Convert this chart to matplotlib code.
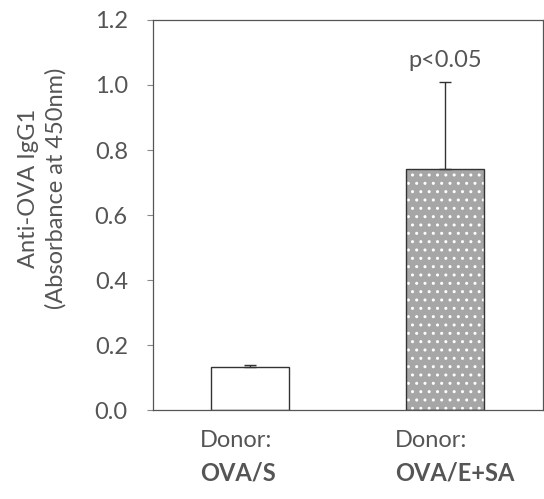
import matplotlib
matplotlib.use("Agg")
import matplotlib.pyplot as plt

categories = ["OVA/S", "OVA/E+SA"]
values = [0.133, 0.742]
errors = [0.007, 0.268]
yticks = [0.0, 0.2, 0.4, 0.6, 0.8, 1.0, 1.2]
p_text = "p<0.05"

TXT = "#555555"
plt.rcParams["font.family"] = ["Lato", "DejaVu Sans"]

fig = plt.figure(figsize=(5.44, 4.99), dpi=100)
ax = fig.add_axes([0.281, 0.178, 0.717, 0.782])

x = list(range(len(categories)))
# первый столбик белый, второй серый с белыми точками
ax.bar(x[0], values[0], width=0.4, color="white", edgecolor="#333333", linewidth=1.0, zorder=2)
ax.bar(x[1], values[1], width=0.4, color="#a6a6a6", edgecolor="white", hatch="..", linewidth=0, zorder=2)
ax.bar(x[1], values[1], width=0.4, color="none", edgecolor="#333333", linewidth=1.0, zorder=3)

ax.errorbar(x, values, yerr=[[0, 0], errors], fmt="none", ecolor="#333333",
            elinewidth=1.0, capsize=4, capthick=1.0, zorder=4)

ax.text(x[1], 1.075, p_text, ha="center", va="center", fontsize=17, color=TXT)

ax.set_xlim(-0.5, 1.5)
ax.set_ylim(0, 1.2)
ax.set_yticks(yticks)
ax.set_yticklabels([f"{t:.1f}" for t in yticks], fontsize=17, color=TXT)
ax.tick_params(axis="y", direction="out", length=4, width=0.8, color="#888888", pad=14)
ax.tick_params(axis="x", length=0)
ax.set_xticks(x)
ax.set_xticklabels([])
# подписи категорий выровнены по левому краю, две строки
for xi, cat in zip(x, categories):
    ax.text(xi - 0.26, -0.114, "Donor:", ha="left", va="baseline", fontsize=17, color=TXT,
            clip_on=False)
    ax.text(xi - 0.26, -0.215, cat, ha="left", va="baseline", fontsize=17, color=TXT,
            fontweight="bold", clip_on=False)

for s in ax.spines.values():
    s.set_color("#555555")
    s.set_linewidth(0.9)

fig.text(42 / 544, 1 - 188 / 499, "Anti-OVA IgG1\n(Absorbance at 450nm)", rotation=90,
         ha="center", va="center", multialignment="center", fontsize=17, color=TXT,
         linespacing=1.35)

fig.savefig("out.png", dpi=100)
